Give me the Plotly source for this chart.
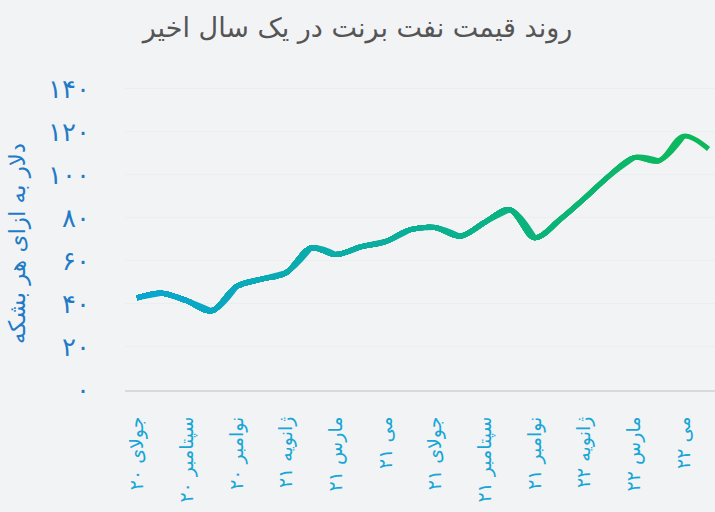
import plotly.graph_objects as go

months = ["2020-07", "2020-08", "2020-09", "2020-10", "2020-11", "2020-12",
          "2021-01", "2021-02", "2021-03", "2021-04", "2021-05", "2021-06",
          "2021-07", "2021-08", "2021-09", "2021-10", "2021-11", "2021-12",
          "2022-01", "2022-02", "2022-03", "2022-04", "2022-05", "2022-06"]
prices = [42.8, 45.0, 41.5, 36.8, 48.0, 51.5,
          54.5, 66.0, 63.0, 66.5, 69.0, 74.5,
          75.5, 71.5, 78.0, 83.8, 70.8, 79.0,
          89.0, 99.5, 108.0, 106.5, 118.0, 112.0]

tick_months = ["2020-07", "2020-09", "2020-11", "2021-01", "2021-03", "2021-05",
               "2021-07", "2021-09", "2021-11", "2022-01", "2022-03", "2022-05"]
tick_labels = ["جولای ۲۰", "سپتامبر ۲۰", "نوامبر ۲۰", "ژانویه ۲۱", "مارس ۲۱", "می ۲۱",
               "جولای ۲۱", "سپتامبر ۲۱", "نوامبر ۲۱", "ژانویه ۲۲", "مارس ۲۲", "می ۲۲"]
y_ticks = [0, 20, 40, 60, 80, 100, 120, 140]
y_tick_labels = ["۰", "۲۰", "۴۰", "۶۰", "۸۰", "۱۰۰", "۱۲۰", "۱۴۰"]

title_text = "روند قیمت نفت برنت در یک سال اخیر"
y_title = "دلار به ازای هر بشکه"

c_start = (10, 165, 211)
c_end = (12, 185, 87)

def color_at(t):
    r = round(c_start[0] + (c_end[0] - c_start[0]) * t)
    g = round(c_start[1] + (c_end[1] - c_start[1]) * t)
    b = round(c_start[2] + (c_end[2] - c_start[2]) * t)
    return f"rgb({r},{g},{b})"

fig = go.Figure()
n = len(months)
# stacked partial traces give a left-to-right colour gradient along the smooth line
for k in range(n - 1, 0, -1):
    fig.add_trace(go.Scatter(
        x=months[:k + 1], y=prices[:k + 1], mode="lines",
        line=dict(color=color_at((k - 0.5) / (n - 1)), width=5, shape="spline", smoothing=1),
        showlegend=False, hoverinfo="skip"))

W, H = 715, 512
L, T, B = 125, 78, 122
font_family = "DejaVu Sans"
fig.update_layout(
    width=W, height=H,
    paper_bgcolor="#f2f3f5", plot_bgcolor="#f2f3f5",
    margin=dict(l=L, r=0, t=T, b=B, autoexpand=False),
    font=dict(family=font_family),
    title=dict(text=title_text, x=0.5, xref="container", xanchor="center",
               y=1 - 28 / H, yref="container", yanchor="middle",
               font=dict(size=27, color="#555555", family=font_family)),
    xaxis=dict(type="category", categoryorder="array", categoryarray=months,
               range=[-0.48, 23.26], tickmode="array", tickvals=tick_months,
               ticktext=tick_labels, tickangle=-90, showgrid=False, automargin=False,
               tickfont=dict(size=19, color="#17a6d6"), ticklabelstandoff=17,
               showline=True, linecolor="#d8d9db", linewidth=2, zeroline=False),
    yaxis=dict(range=[0, 145], tickmode="array", tickvals=y_ticks, ticktext=y_tick_labels,
               showgrid=True, gridcolor="#ecedef", gridwidth=1, zeroline=False,
               automargin=False,
               tickfont=dict(size=26, color="#1f7bc6"), ticklabelstandoff=34),
    annotations=[dict(text=y_title, textangle=-90, showarrow=False,
                      xref="paper", yref="paper",
                      x=(17 - L) / (W - L), y=(H - B - 244) / (H - T - B),
                      xanchor="center", yanchor="middle",
                      font=dict(size=23, color="#1f7bc6", family=font_family))],
)

fig.write_html(
    "out.html",
    config={"displayModeBar": False},
    post_script=("document.body.style.margin='0';"
                 "document.body.style.overflow='hidden';"
                 "document.body.style.background='#f2f3f5';"
                 "document.documentElement.style.background='#f2f3f5';"),
)
